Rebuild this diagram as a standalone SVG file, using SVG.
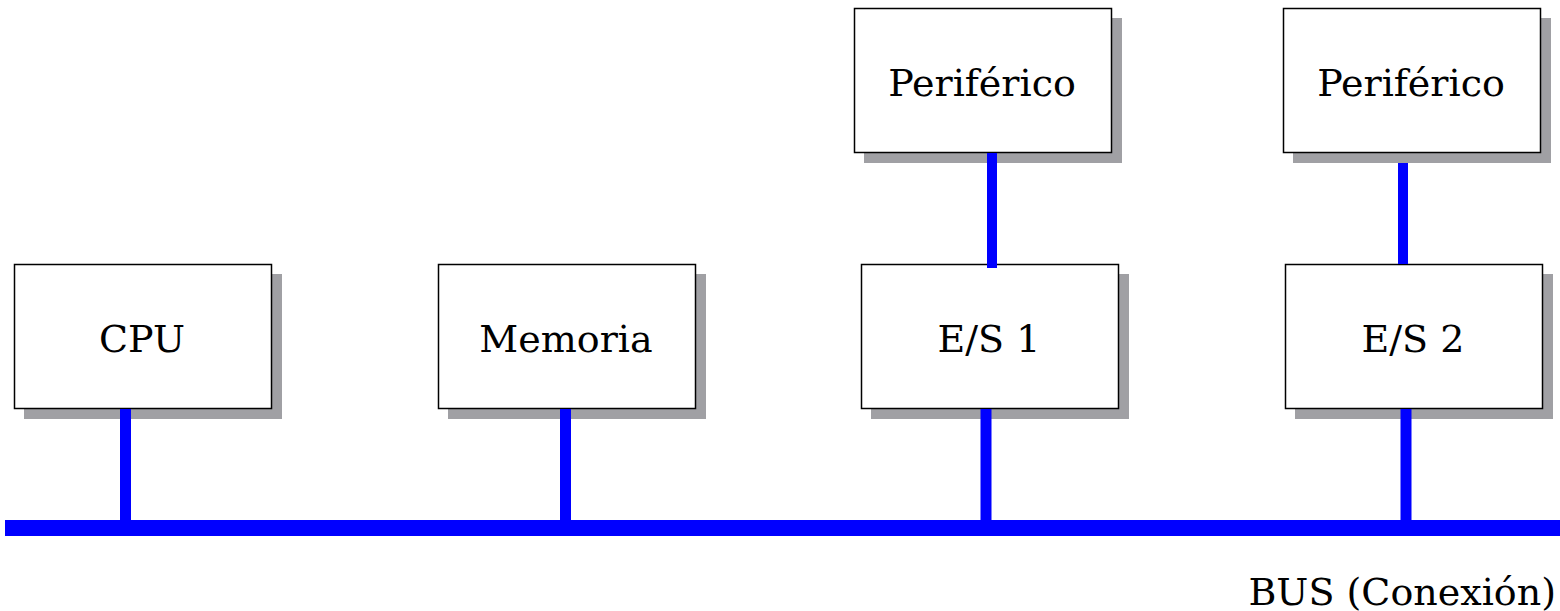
<svg xmlns="http://www.w3.org/2000/svg" width="1560" height="611" viewBox="0 0 1560 611">
<style>
.sh{fill:#a0a0a4}
.bx{fill:#fff;stroke:#000;stroke-width:1.5}
.t{font-family:"DejaVu Serif",serif;font-size:38px;fill:#000;text-anchor:middle}
.c{stroke:#0000ff;stroke-width:11;fill:none}
</style>
<rect width="1560" height="611" fill="#fff"/>
<g id="cpu">
<rect class="sh" x="24" y="274" width="258" height="145"/>
<rect class="bx" x="14.5" y="264.5" width="257" height="144"/>
<text class="t" x="142" y="352">CPU</text>
</g>
<g id="memoria">
<rect class="sh" x="448" y="274" width="258" height="145"/>
<rect class="bx" x="438.5" y="264.5" width="257" height="144"/>
<text class="t" x="566" y="352">Memoria</text>
</g>
<g id="es1">
<rect class="sh" x="871" y="274" width="258" height="145"/>
<rect class="bx" x="861.5" y="264.5" width="257" height="144"/>
<text class="t" x="989" y="352">E/S 1</text>
</g>
<g id="es2">
<rect class="sh" x="1295" y="274" width="258" height="145"/>
<rect class="bx" x="1285.5" y="264.5" width="257" height="144"/>
<text class="t" x="1413" y="352">E/S 2</text>
</g>
<g id="periferico1">
<rect class="sh" x="864" y="18" width="258" height="145"/>
<rect class="bx" x="854.5" y="8.5" width="257" height="144"/>
<text class="t" x="982" y="96">Periférico</text>
</g>
<g id="periferico2">
<rect class="sh" x="1293" y="18" width="258" height="145"/>
<rect class="bx" x="1283.5" y="8.5" width="257" height="144"/>
<text class="t" x="1411" y="96">Periférico</text>
</g>
<g id="connectors">
<line class="c" x1="5" y1="528" x2="1560" y2="528" style="stroke-width:16"/>
<line class="c" x1="125.5" y1="409" x2="125.5" y2="528"/>
<line class="c" x1="565.5" y1="409" x2="565.5" y2="528"/>
<line class="c" x1="986" y1="409" x2="986" y2="528"/>
<line class="c" x1="1406" y1="409" x2="1406" y2="528"/>
<line class="c" x1="992" y1="153" x2="992" y2="268" style="stroke-width:10"/>
<line class="c" x1="1403" y1="163" x2="1403" y2="264" style="stroke-width:10"/>
</g>
<g id="bus-label">
<text class="t" x="1556" y="605" style="text-anchor:end">BUS (Conexión)</text>
</g>
</svg>
